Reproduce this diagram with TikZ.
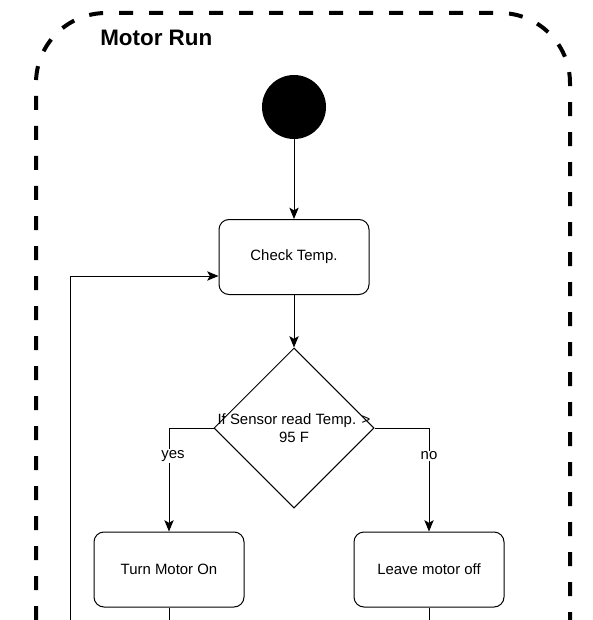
\documentclass[tikz,border=0pt]{standalone}
\usepackage{fontspec}
\setmainfont{Liberation Sans}
\usetikzlibrary{shapes.geometric,arrows.meta,calc}
\begin{document}
\begin{tikzpicture}[x=0.75pt,y=-0.75pt,
  conn/.style={line width=0.75pt,draw=black},
  arr/.style={conn,-{Stealth[length=8.5pt,width=7pt,inset=2pt]}},
  stepbox/.style={draw=black,line width=0.75pt,rounded corners=7.5pt,minimum width=112.5pt,minimum height=56.25pt,inner sep=0pt,font=\fontsize{11.2}{13.5}\selectfont},
  decision/.style={diamond,draw=black,line width=0.75pt,minimum width=120pt,minimum height=120pt,inner sep=0pt,aspect=1},
  lbl/.style={fill=white,inner sep=1pt,font=\fontsize{11.2}{13.5}\selectfont}]
\useasboundingbox (0,0) rectangle (592,620);
% container
\coordinate (cbl) at (36,620);
\coordinate (cbr) at (570,620);
\draw[line width=3pt,dash pattern=on 10.5pt off 12pt,rounded corners=52.5pt]
  (cbl) -- (36,13) -- (570,13) -- (cbr);
\node[font=\fontsize{16.8}{20}\selectfont\bfseries,anchor=west,inner sep=0pt] (title) at (100,38) {Motor Run};
% nodes
\node[circle,fill=black,minimum size=48pt,inner sep=0pt] (start) at (294,107) {};
\node[stepbox] (check) at (294,257) {Check Temp.};
\node[decision] (dia) at (294,428) {};
\node[align=center,font=\fontsize{11.2}{13.5}\selectfont,inner sep=0pt] (diatext) at (294,428) {If Sensor read Temp. >\\95 F};
\node[stepbox] (on) at (169,569.5) {Turn Motor On};
\node[stepbox] (off) at (429,569.5) {Leave motor off};
\coordinate (onend) at (169,620);
\coordinate (offend) at (429,620);
\coordinate (fb) at (70,620);
% connectors
\draw[arr] (start) -- (check);
\draw[arr] (check) -- (dia.north);
\draw[arr] (dia.west) -| (on.north);
\draw[arr] (dia.east) -| (off.north);
\node[lbl] (yes) at (173,456) {yes};
\node[lbl] (no) at (429,456) {no};
\draw[conn] (on) -- (onend);
\draw[conn] (off) -- (offend);
\draw[arr] (fb) |- ([yshift=-14.25pt]check.west);
\end{tikzpicture}
\end{document}
